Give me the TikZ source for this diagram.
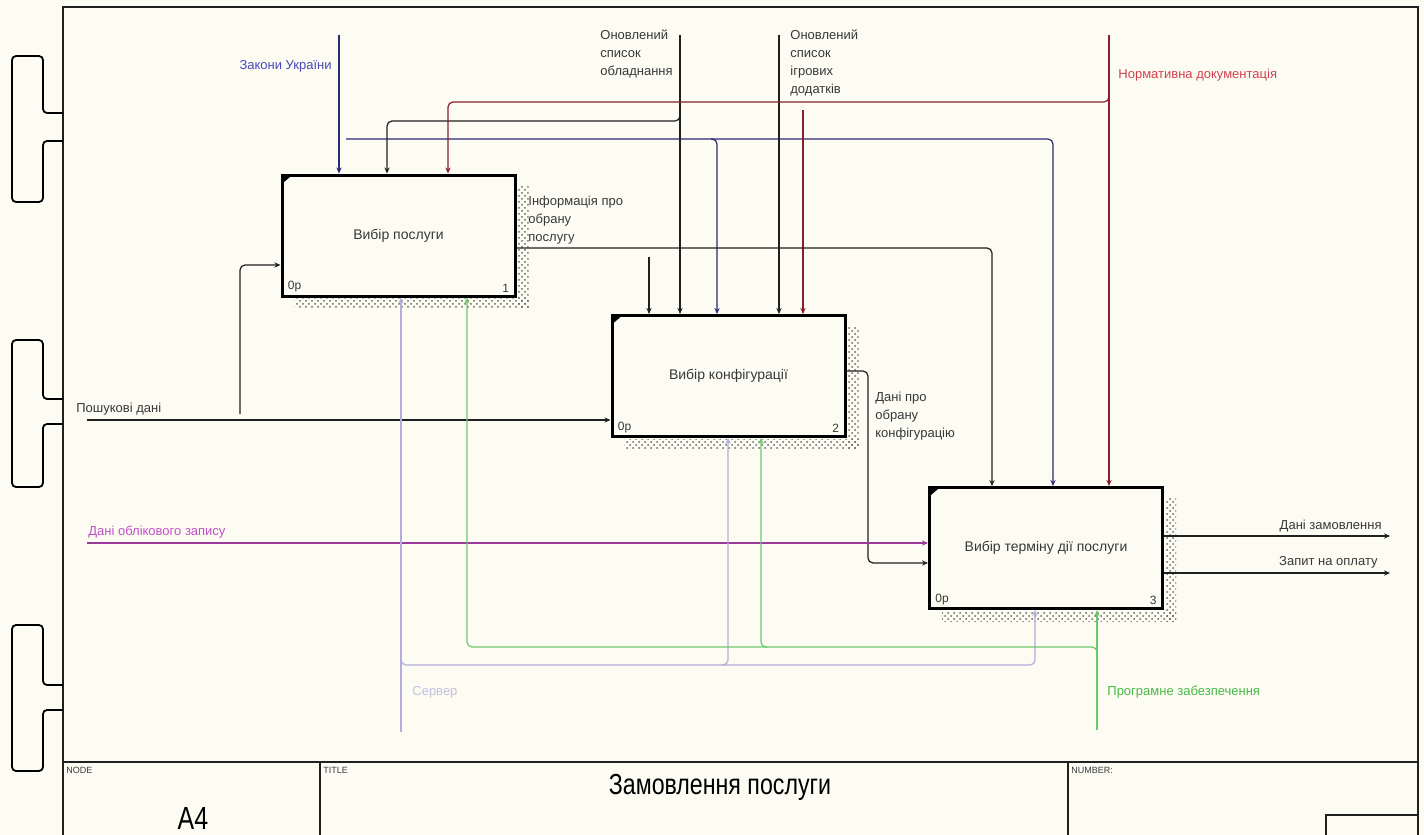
\documentclass[tikz,border=0pt]{standalone}
\usepackage{fontspec}
\setmainfont{Liberation Sans}
\usetikzlibrary{arrows.meta,patterns}

\definecolor{paper}{HTML}{FDFCF3}
\definecolor{navyline}{HTML}{2A2A78}
\definecolor{navytext}{HTML}{4848B8}
\definecolor{redline}{HTML}{8A1C2C}
\definecolor{redtext}{HTML}{D04050}
\definecolor{purpline}{HTML}{9A3A9A}
\definecolor{purptext}{HTML}{C050C8}
\definecolor{lavline}{HTML}{B4ACDA}
\definecolor{lavtext}{HTML}{C4BEE2}
\definecolor{greenline}{HTML}{6CC86C}
\definecolor{greentext}{HTML}{48B848}
\definecolor{inkline}{HTML}{202020}
\definecolor{labelgray}{HTML}{383838}

\begin{document}
\begin{tikzpicture}[x=0.5pt,y=-0.5pt,
  flow/.style={line width=0.6pt, rounded corners=2.5pt, -{Stealth[length=3pt,width=2.6pt]}},
  fnbox/.style={draw=black, line width=1.5pt, fill=paper, minimum width=116.5pt,
    minimum height=60.5pt, inner sep=0pt, font=\fontsize{7}{8}\selectfont, text=labelgray},
  lbl/.style={font=\fontsize{6.5}{9}\selectfont, inner sep=1pt, align=left, text=labelgray},
  corner/.style={font=\fontsize{6}{6}\selectfont, inner sep=1pt, text=labelgray},
  shade/.style={pattern=crosshatch dots, pattern color=black!60},
  binder/.style={line width=0.9pt, rounded corners=2pt},
  cellhead/.style={font=\fontsize{4.5}{5}\selectfont, inner sep=0pt, anchor=north west, text=labelgray}
]
\useasboundingbox (0,0) rectangle (1424,835);
\fill[paper] (0,0) rectangle (1424,835);

% sheet frame and title block
\draw[line width=1pt, inkline] (63,835) -- (63,7) -- (1418,7) -- (1418,835);
\draw[line width=1pt, inkline] (63,762) -- (1418,762);
\draw[line width=1pt, inkline] (320,762) -- (320,835);
\draw[line width=1pt, inkline] (1068,762) -- (1068,835);
\draw[line width=1pt, inkline] (1326,835) -- (1326,815) -- (1418,815);
\node[cellhead] (hnode) at (66,767) {NODE};
\node[cellhead] (htitle) at (323,767) {TITLE};
\node[cellhead] (hnum) at (1071,767) {NUMBER:};
\node[inner sep=0pt, font=\fontsize{16}{16}\selectfont] (nodeid) at (193,818) {\scalebox{0.78}[1]{A4}};
\node[inner sep=0pt, font=\fontsize{14.5}{15}\selectfont] (title) at (720,787) {\scalebox{0.8}[1]{Замовлення послуги}};

% binder clips on the left edge
\foreach \t/\a/\b/\e in {56/113/141/202, 340/399/424/487, 625/685/710/771}{
  \draw[binder] (63,\a) -- (43,\a) -- (43,\t) -- (12,\t) -- (12,\e) -- (43,\e) -- (43,\b) -- (63,\b);
}

% activity boxes
\node[fnbox] (b1) at (398.5,235.5) {Вибір послуги};
\node[fnbox] (b2) at (728.5,376) {Вибір конфігурації};
\node[fnbox] (b3) at (1046,548) {Вибір терміну дії послуги};

\foreach \b/\n in {b1/1, b2/2, b3/3}{
  \fill[shade] ([shift={(1,12)}]\b.north east) rectangle ([shift={(12,11)}]\b.south east);
  \fill[shade] ([shift={(14,1)}]\b.south west) rectangle ([shift={(12,11)}]\b.south east);
  \fill ([shift={(3,3)}]\b.north west) -- ++(7,0) -- ++(-7,6) -- cycle;
  \node[corner, anchor=south west] at ([shift={(5,-3)}]\b.south west) {0р};
  \node[corner, anchor=south east] at ([shift={(-5,-3)}]\b.south east) {\n};
}

% free ends of the boundary arrows
\coordinate (zak) at (339,35);
\coordinate (zakj) at (346,139);
\coordinate (obl) at (680,35);
\coordinate (oblj) at (680,110);
\coordinate (igr) at (779,35);
\coordinate (norm) at (1109,35);
\coordinate (normj) at (1109,95);
\coordinate (normk) at (803,110);
\coordinate (posh) at (87,420);
\coordinate (poshj) at (240,414);
\coordinate (acc) at (87,543);
\coordinate (out1) at (1390,536);
\coordinate (out2) at (1390,573);
\coordinate (serv) at (401,732);
\coordinate (servj) at (401,658);
\coordinate (prog) at (1097,730);
\coordinate (progj) at (1097,654);
\coordinate (infj) at (649,257);

% controls
\draw[flow, navyline] (zak) -- (339,0 |- b1.north);
\draw[flow, navyline] (zakj) -- (1053,139) -- (1053,0 |- b3.north);
\draw[flow, navyline] (711,139) -- (717,139) -- (717,0 |- b2.north);
\draw[flow, inkline] (obl) -- (680,0 |- b2.north);
\draw[flow, inkline] (oblj) -- (680,121) -- (387,121) -- (387,0 |- b1.north);
\draw[flow, inkline] (igr) -- (779,0 |- b2.north);
\draw[flow, redline] (norm) -- (1109,0 |- b3.north);
\draw[flow, redline] (normj) -- (1109,102) -- (448,102) -- (448,0 |- b1.north);
\draw[flow, redline] (normk) -- (803,0 |- b2.north);

% outputs feeding later activities
\draw[flow, inkline] (b1.east |- 0,248) -- (992,248) -- (992,0 |- b3.north);
\draw[flow, inkline] (infj) -- (649,0 |- b2.north);
\draw[flow, inkline] (b2.east |- 0,371) -- (868,371) -- (868,563) -- (b3.west |- 0,563);

% inputs
\draw[flow, inkline] (posh) -- (b2.west |- 0,420);
\draw[flow, inkline] (poshj) -- (240,265) -- (b1.west |- 0,265);
\draw[flow, purpline] (acc) -- (b3.west |- 0,543);

% final outputs
\draw[flow, inkline] (b3.east |- 0,536) -- (out1);
\draw[flow, inkline] (b3.east |- 0,573) -- (out2);

% mechanisms
\draw[flow, lavline] (serv) -- (401,0 |- b1.south);
\draw[flow, lavline] (servj) -- (401,665) -- (1035,665) -- (1035,0 |- b3.south);
\draw[flow, lavline] (722,665) -- (728,665) -- (728,0 |- b2.south);
\draw[flow, greenline] (prog) -- (1097,0 |- b3.south);
\draw[flow, greenline] (progj) -- (1097,647) -- (467,647) -- (467,0 |- b1.south);
\draw[flow, greenline] (767,647) -- (761,647) -- (761,0 |- b2.south);

% arrow labels
\node[lbl, text=navytext, anchor=east] (tzak) at (334,66) {Закони України};
\node[lbl, anchor=north west] (tobl) at (598,27) {Оновлений\\список\\обладнання};
\node[lbl, anchor=north west] (tigr) at (788,27) {Оновлений\\список\\ігрових\\додатків};
\node[lbl, text=redtext, anchor=west] (tnorm) at (1116,75) {Нормативна документація};
\node[lbl, anchor=north west] (tinf) at (526,194) {Інформація про\\обрану\\послугу};
\node[lbl, anchor=north west] (tconf) at (873,390) {Дані про\\обрану\\конфігурацію};
\node[lbl, anchor=south west] (tposh) at (74,418) {Пошукові дані};
\node[lbl, text=purptext, anchor=south west] (tacc) at (86,541) {Дані облікового запису};
\node[lbl, anchor=south east] (tout1) at (1384,534) {Дані замовлення};
\node[lbl, anchor=south east] (tout2) at (1380,571) {Запит на оплату};
\node[lbl, text=lavtext, anchor=west] (tserv) at (410,692) {Сервер};
\node[lbl, text=greentext, anchor=west] (tprog) at (1105,692) {Програмне забезпечення};
\end{tikzpicture}
\end{document}
